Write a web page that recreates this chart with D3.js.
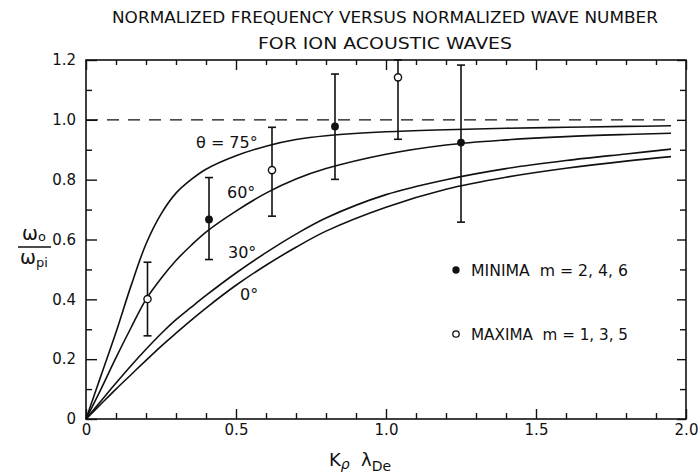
<!DOCTYPE html>
<html>
<head>
<meta charset="utf-8">
<script src="https://cdn.jsdelivr.net/npm/d3@7"></script>
<style>
  html, body { margin: 0; padding: 0; background: #fff; }
  svg { display: block; }
  text { font-family: "DejaVu Sans", "Liberation Sans", sans-serif; fill: #111; }
</style>
</head>
<body>
<svg id="chart" width="700" height="475"></svg>
<script>
// ---------------- DATA ----------------
const titleLines = ["NORMALIZED FREQUENCY VERSUS NORMALIZED WAVE NUMBER", "FOR ION ACOUSTIC WAVES"];

const kValues   = [0, 0.05, 0.1, 0.15, 0.2, 0.25, 0.3, 0.35, 0.4, 0.5, 0.6, 0.7, 0.8, 1.0, 1.2, 1.4, 1.6, 1.8, 1.95];
const theta75   = [0, 0.145, 0.29, 0.445, 0.585, 0.685, 0.755, 0.80, 0.835, 0.88, 0.912, 0.934, 0.947, 0.96, 0.967, 0.972, 0.975, 0.978, 0.98];
const theta60   = [0, 0.10, 0.205, 0.305, 0.40, 0.47, 0.53, 0.58, 0.625, 0.695, 0.755, 0.802, 0.837, 0.885, 0.916, 0.933, 0.944, 0.951, 0.955];
const theta30   = [0, 0.06, 0.12, 0.178, 0.233, 0.285, 0.332, 0.373, 0.413, 0.488, 0.556, 0.618, 0.672, 0.75, 0.80, 0.837, 0.864, 0.886, 0.902];
const theta0    = [0, 0.05, 0.10, 0.148, 0.196, 0.243, 0.287, 0.33, 0.371, 0.447, 0.514, 0.574, 0.628, 0.708, 0.768, 0.808, 0.838, 0.862, 0.877];
const curveNames = ["θ = 75°", "60°", "30°", "0°"];

// measured points: minima (filled), maxima (open)
const minimaK   = [0.41, 0.83, 1.25];
const minimaV   = [0.667, 0.978, 0.924];
const minimaLo  = [0.533, 0.801, 0.658];
const minimaHi  = [0.807, 1.153, 1.183];

const maximaK   = [0.205, 0.62, 1.04];
const maximaV   = [0.401, 0.832, 1.142];
const maximaLo  = [0.278, 0.678, 0.935];
const maximaHi  = [0.524, 0.975, 1.2];

const xMajorTicks  = [0, 0.5, 1.0, 1.5, 2.0];
const xMajorLabels = ["0", "0.5", "1.0", "1.5", "2.0"];
const xMinorTicks  = [0.1,0.2,0.3,0.4,0.6,0.7,0.8,0.9,1.1,1.2,1.3,1.4,1.6,1.7,1.8,1.9];
const yMajorTicks  = [0, 0.2, 0.4, 0.6, 0.8, 1.0, 1.2];
const yMajorLabels = ["0", "0.2", "0.4", "0.6", "0.8", "1.0", "1.2"];
const yMinorTicks  = [0.1, 0.3, 0.5, 0.7, 0.9, 1.1];

const referenceLevel = 1.0;
const legendItems = ["MINIMA  m = 2, 4, 6", "MAXIMA  m = 1, 3, 5"];

// ---------------- LAYOUT ----------------
const svg = d3.select("#chart");
const L = 86, R = 686, T = 60, B = 419;
const x = d3.scaleLinear().domain([0, 2]).range([L, R]);
const y = d3.scaleLinear().domain([0, 1.2]).range([B, T]);

// title
svg.selectAll("text.title").data(titleLines).join("text")
  .attr("class", "title")
  .attr("x", 385).attr("y", (d, i) => 23 + i * 26)
  .attr("text-anchor", "middle")
  .attr("font-size", 15.5)
  .attr("textLength", (d, i) => i === 0 ? 546 : 254)
  .attr("lengthAdjust", "spacingAndGlyphs")
  .text(d => d);

// frame
svg.append("rect").attr("x", L).attr("y", T).attr("width", R - L).attr("height", B - T)
  .attr("fill", "none").attr("stroke", "#111").attr("stroke-width", 1.6);

function styleAxis(g) {
  g.select(".domain").remove();
  g.selectAll("line").attr("stroke", "#111").attr("stroke-width", 1.4);
  g.selectAll("text").attr("font-size", 15).attr("fill", "#111")
    .attr("font-family", "'DejaVu Sans', sans-serif");
}

// bottom axis
svg.append("g").attr("transform", `translate(0,${B})`)
  .call(d3.axisBottom(x).tickValues(xMajorTicks).tickFormat((d, i) => xMajorLabels[i])
    .tickSizeInner(-10).tickSizeOuter(0).tickPadding(5))
  .call(styleAxis);
svg.append("g").attr("transform", `translate(0,${B})`)
  .call(d3.axisBottom(x).tickValues(xMinorTicks).tickFormat("").tickSizeInner(-6).tickSizeOuter(0))
  .call(styleAxis);
// top axis
svg.append("g").attr("transform", `translate(0,${T})`)
  .call(d3.axisTop(x).tickValues(xMajorTicks).tickFormat("").tickSizeInner(-10).tickSizeOuter(0))
  .call(styleAxis);
svg.append("g").attr("transform", `translate(0,${T})`)
  .call(d3.axisTop(x).tickValues(xMinorTicks).tickFormat("").tickSizeInner(-5).tickSizeOuter(0))
  .call(styleAxis);
// left axis
svg.append("g").attr("transform", `translate(${L},0)`)
  .call(d3.axisLeft(y).tickValues(yMajorTicks).tickFormat((d, i) => yMajorLabels[i])
    .tickSizeInner(-11).tickSizeOuter(0).tickPadding(10))
  .call(styleAxis);
svg.append("g").attr("transform", `translate(${L},0)`)
  .call(d3.axisLeft(y).tickValues(yMinorTicks).tickFormat("").tickSizeInner(-6).tickSizeOuter(0))
  .call(styleAxis);
// right axis
svg.append("g").attr("transform", `translate(${R},0)`)
  .call(d3.axisRight(y).tickValues(yMajorTicks).tickFormat("").tickSizeInner(-9).tickSizeOuter(0))
  .call(styleAxis);
svg.append("g").attr("transform", `translate(${R},0)`)
  .call(d3.axisRight(y).tickValues(yMinorTicks).tickFormat("").tickSizeInner(-6).tickSizeOuter(0))
  .call(styleAxis);

// dashed reference line
svg.append("line")
  .attr("x1", x(0)).attr("x2", x(1.95))
  .attr("y1", y(referenceLevel)).attr("y2", y(referenceLevel))
  .attr("stroke", "#111").attr("stroke-width", 1.4).attr("stroke-dasharray", "12,9");

// curves
const line = d3.line().x(d => x(d[0])).y(d => y(d[1])).curve(d3.curveCatmullRom.alpha(0.5));
[theta75, theta60, theta30, theta0].forEach(vals => {
  svg.append("path")
    .datum(kValues.map((k, i) => [k, vals[i]]))
    .attr("d", line)
    .attr("fill", "none").attr("stroke", "#111").attr("stroke-width", 1.6);
});

// curve labels
const labelPos = [[196, 148], [227, 198], [228, 258], [240, 300]];
svg.selectAll("text.clabel").data(curveNames).join("text")
  .attr("class", "clabel")
  .attr("x", (d, i) => labelPos[i][0]).attr("y", (d, i) => labelPos[i][1])
  .attr("font-size", 16)
  .text(d => d);

// error bars
function drawPoints(ks, vs, lo, hi, filled) {
  const g = svg.append("g");
  ks.forEach((k, i) => {
    const cx = x(k);
    g.append("line").attr("x1", cx).attr("x2", cx).attr("y1", y(lo[i])).attr("y2", y(hi[i]))
      .attr("stroke", "#111").attr("stroke-width", 1.6);
    [lo[i], hi[i]].forEach(v => {
      g.append("line").attr("x1", cx - 4).attr("x2", cx + 4).attr("y1", y(v)).attr("y2", y(v))
        .attr("stroke", "#111").attr("stroke-width", 1.6);
    });
    g.append("circle").attr("cx", cx).attr("cy", y(vs[i])).attr("r", filled ? 3.2 : 3.6)
      .attr("fill", filled ? "#111" : "#fff").attr("stroke", "#111").attr("stroke-width", 1.4);
  });
}
drawPoints(minimaK, minimaV, minimaLo, minimaHi, true);
drawPoints(maximaK, maximaV, maximaLo, maximaHi, false);

// legend
const legendY = [270, 334];
legendItems.forEach((t, i) => {
  svg.append("circle").attr("cx", 456).attr("cy", legendY[i]).attr("r", i === 0 ? 3 : 3.2)
    .attr("fill", i === 0 ? "#111" : "#fff").attr("stroke", "#111").attr("stroke-width", 1.3);
  svg.append("text").attr("x", 471).attr("y", legendY[i] + 5.5)
    .attr("font-size", 15).attr("textLength", 157).attr("lengthAdjust", "spacingAndGlyphs")
    .style("white-space", "pre").text(t);
});

// y-axis label: omega_o / omega_pi
const yl = svg.append("g");
yl.append("text").attr("x", 34).attr("y", 240).attr("text-anchor", "middle").attr("font-size", 19)
  .html('ω<tspan font-size="13" dy="1">o</tspan>');
yl.append("line").attr("x1", 18).attr("x2", 51).attr("y1", 247).attr("y2", 247)
  .attr("stroke", "#111").attr("stroke-width", 1.4);
yl.append("text").attr("x", 34).attr("y", 264).attr("text-anchor", "middle").attr("font-size", 19)
  .html('ω<tspan font-size="13" dy="3">pi</tspan>');

// x-axis label: K_rho lambda_De
svg.append("text").attr("x", 360).attr("y", 466).attr("text-anchor", "middle").attr("font-size", 18)
  .style("white-space", "pre")
  .html('K<tspan font-size="14" font-style="italic" dy="3">ρ</tspan><tspan dy="-3">  λ</tspan><tspan font-size="14" dy="5">De</tspan>');
</script>
</body>
</html>
